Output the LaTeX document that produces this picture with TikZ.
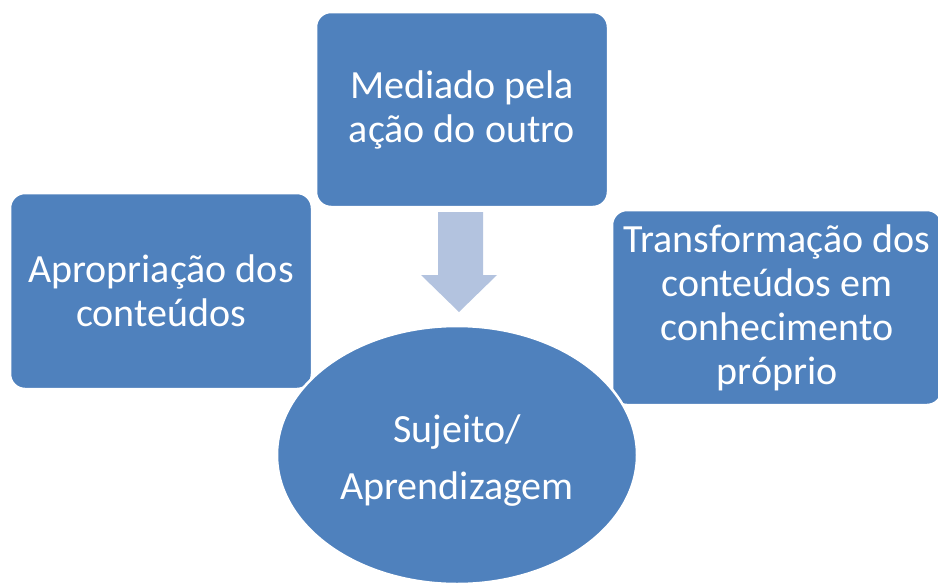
\documentclass[tikz,border=0pt]{standalone}
\usepackage{fontspec}
\setmainfont{Carlito}
\usetikzlibrary{shapes.geometric}
\definecolor{boxblue}{HTML}{4F81BD}
\definecolor{arrowblue}{HTML}{B3C3DF}
\tikzset{
  box/.style={rectangle, rounded corners=15pt, fill=boxblue, draw=white, line width=2.5pt,
    text=white, align=center, font=\fontsize{40}{44}\selectfont, inner sep=2pt},
  ell/.style={ellipse, fill=boxblue, draw=white, line width=2.5pt, inner sep=0pt},
  elltext/.style={text=white, align=center, font=\fontsize{40}{57}\selectfont, inner sep=0pt},
}
\begin{document}
\begin{tikzpicture}[x=1pt,y=-1pt]
\useasboundingbox (0,0) rectangle (938,582);
\node[box, minimum width=302pt, minimum height=196pt] (left) at (161,291) {Apropriação dos\\conteúdos};
\node[box, minimum width=330pt, minimum height=195pt] (right) at (777,307.5) {Transformação dos\\conteúdos em\\conhecimento\\próprio};
\node[box, minimum width=292pt, minimum height=195pt] (top) at (462,109.5) {Mediado pela\\ação do outro};
\fill[arrowblue] (438,212) -- (483,212) -- (483,275) -- (497,275) -- (459,312) -- (421,275) -- (438,275) -- cycle;
\node[ell, minimum width=360pt, minimum height=258pt] (subj) at (457,455) {};
\node[elltext] (subjtext) at (457,461) {Sujeito/\\Aprendizagem};
\end{tikzpicture}
\end{document}
